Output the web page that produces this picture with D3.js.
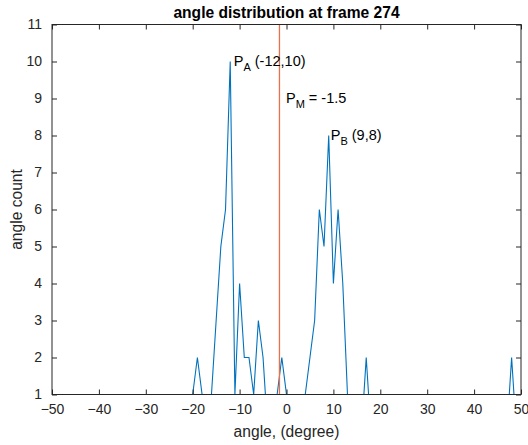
<!DOCTYPE html>
<html>
<head>
<meta charset="utf-8">
<script src="https://cdn.jsdelivr.net/npm/d3@7"></script>
<style>
  html, body { margin: 0; padding: 0; background: #ffffff; }
  svg { display: block; }
  text { font-family: "Liberation Sans", Arial, Helvetica, sans-serif; }
</style>
</head>
<body>
<svg id="chart" width="528" height="445"></svg>
<script>
// ---- data ----
const angles = d3.range(-50, 51);               // integer angle bins
const nonZeroAngles = [-20,-19,-18,-17,-16,-15,-14,-13,-12,-11,-10,-9,-8,-7,-6,-5,-4,-3,-2,-1,0,1,2,3,4,5,6,7,8,9,10,11,12,13,17,48];
const nonZeroCounts = [  1,  2,  1,  1,  1,  3,  5,  6, 10,  1,  4, 2, 2, 1, 3, 2, 0, 1, 1, 2,1,1,0,0,1,2,3,6,5,8,4,6,4,1,2,2];
const xTicks = [-50,-40,-30,-20,-10,0,10,20,30,40,50];
const yTicks = [1,2,3,4,5,6,7,8,9,10,11];
const titleText = "angle distribution at frame 274";
const xLabelText = "angle, (degree)";
const yLabelText = "angle count";
const peakA = { x: -12, y: 10, sub: "A", text: " (-12,10)" };
const peakB = { x: 9, y: 8, sub: "B", text: " (9,8)" };
const PM = -1.5;
const pmLevel = 9;

const countMap = new Map(nonZeroAngles.map((a, i) => [a, nonZeroCounts[i]]));
const series = angles.map(a => ({ x: a, y: countMap.has(a) ? countMap.get(a) : 0 }));

// ---- layout ----
const svg = d3.select("#chart");
const pLeft = 52, pRight = 521, pTop = 24.5, pBottom = 394.5;
const axisColor = "#262626";
const lineColor = "#0072BD";
const pmColor = "#E8704A";

const x = d3.scaleLinear().domain([-50, 50]).range([pLeft, pRight]);
const y = d3.scaleLinear().domain([1, 11]).range([pBottom, pTop]);

svg.append("defs").append("clipPath").attr("id", "clip")
  .append("rect").attr("x", pLeft).attr("y", pTop).attr("width", pRight - pLeft).attr("height", pBottom - pTop);

const tickLen = 5;

// data line
svg.append("path")
  .datum(series)
  .attr("clip-path", "url(#clip)")
  .attr("fill", "none")
  .attr("stroke", lineColor)
  .attr("stroke-width", 1.1)
  .attr("d", d3.line().x(d => x(d.x)).y(d => y(d.y)));

// PM vertical line
svg.append("line")
  .attr("x1", x(PM)).attr("x2", x(PM))
  .attr("y1", y(1)).attr("y2", y(11))
  .attr("stroke", pmColor).attr("stroke-width", 1.3);

// axes
function styleAxis(g) {
  g.select(".domain").remove();
  g.selectAll(".tick line").attr("stroke", axisColor);
  g.selectAll(".tick text").attr("fill", axisColor).style("font-size", "14px")
    .style("font-family", "'Liberation Sans', Arial, sans-serif");
}
const gx = svg.append("g").attr("transform", `translate(0,${pBottom})`)
  .call(d3.axisBottom(x).tickValues(xTicks).tickSizeInner(-tickLen).tickSizeOuter(0).tickPadding(10));
styleAxis(gx);
const gxTop = svg.append("g").attr("transform", `translate(0,${pTop})`)
  .call(d3.axisTop(x).tickValues(xTicks).tickSizeInner(-tickLen).tickSizeOuter(0).tickFormat(""));
styleAxis(gxTop);
const gy = svg.append("g").attr("transform", `translate(${pLeft},0)`)
  .call(d3.axisLeft(y).tickValues(yTicks).tickSizeInner(-tickLen).tickSizeOuter(0).tickPadding(10));
styleAxis(gy);
const gyR = svg.append("g").attr("transform", `translate(${pRight},0)`)
  .call(d3.axisRight(y).tickValues(yTicks).tickSizeInner(-tickLen).tickSizeOuter(0).tickFormat(""));
styleAxis(gyR);

// box
svg.append("rect")
  .attr("x", pLeft).attr("y", pTop).attr("width", pRight - pLeft).attr("height", pBottom - pTop)
  .attr("fill", "none").attr("stroke", axisColor).attr("stroke-width", 1);

// title and labels
svg.append("text")
  .attr("x", (pLeft + pRight) / 2).attr("y", 18)
  .attr("text-anchor", "middle")
  .style("font-size", "15.6px").style("font-weight", "bold").attr("fill", "#000")
  .text(titleText);

svg.append("text")
  .attr("x", (pLeft + pRight) / 2).attr("y", 437)
  .attr("text-anchor", "middle")
  .style("font-size", "15.6px").attr("fill", axisColor)
  .text(xLabelText);

svg.append("text")
  .attr("transform", `translate(22,${(pTop + pBottom) / 2}) rotate(-90)`)
  .attr("text-anchor", "middle")
  .style("font-size", "15.6px").attr("fill", axisColor)
  .text(yLabelText);

// annotations
function annot(px, py, sub, rest) {
  const t = svg.append("text").attr("x", px).attr("y", py)
    .style("font-size", "14.5px").attr("fill", "#000");
  t.append("tspan").text("P");
  t.append("tspan").attr("dy", 5).style("font-size", "11px").text(sub);
  t.append("tspan").attr("dy", -5).text(rest);
}
annot(x(peakA.x) + 3.5, y(peakA.y) + 4.5, peakA.sub, peakA.text);
annot(x(peakB.x) + 2, y(peakB.y) + 4.5, peakB.sub, peakB.text);
annot(x(PM) + 6.5, y(pmLevel) + 4.5, "M", " = " + PM);
</script>
</body>
</html>
